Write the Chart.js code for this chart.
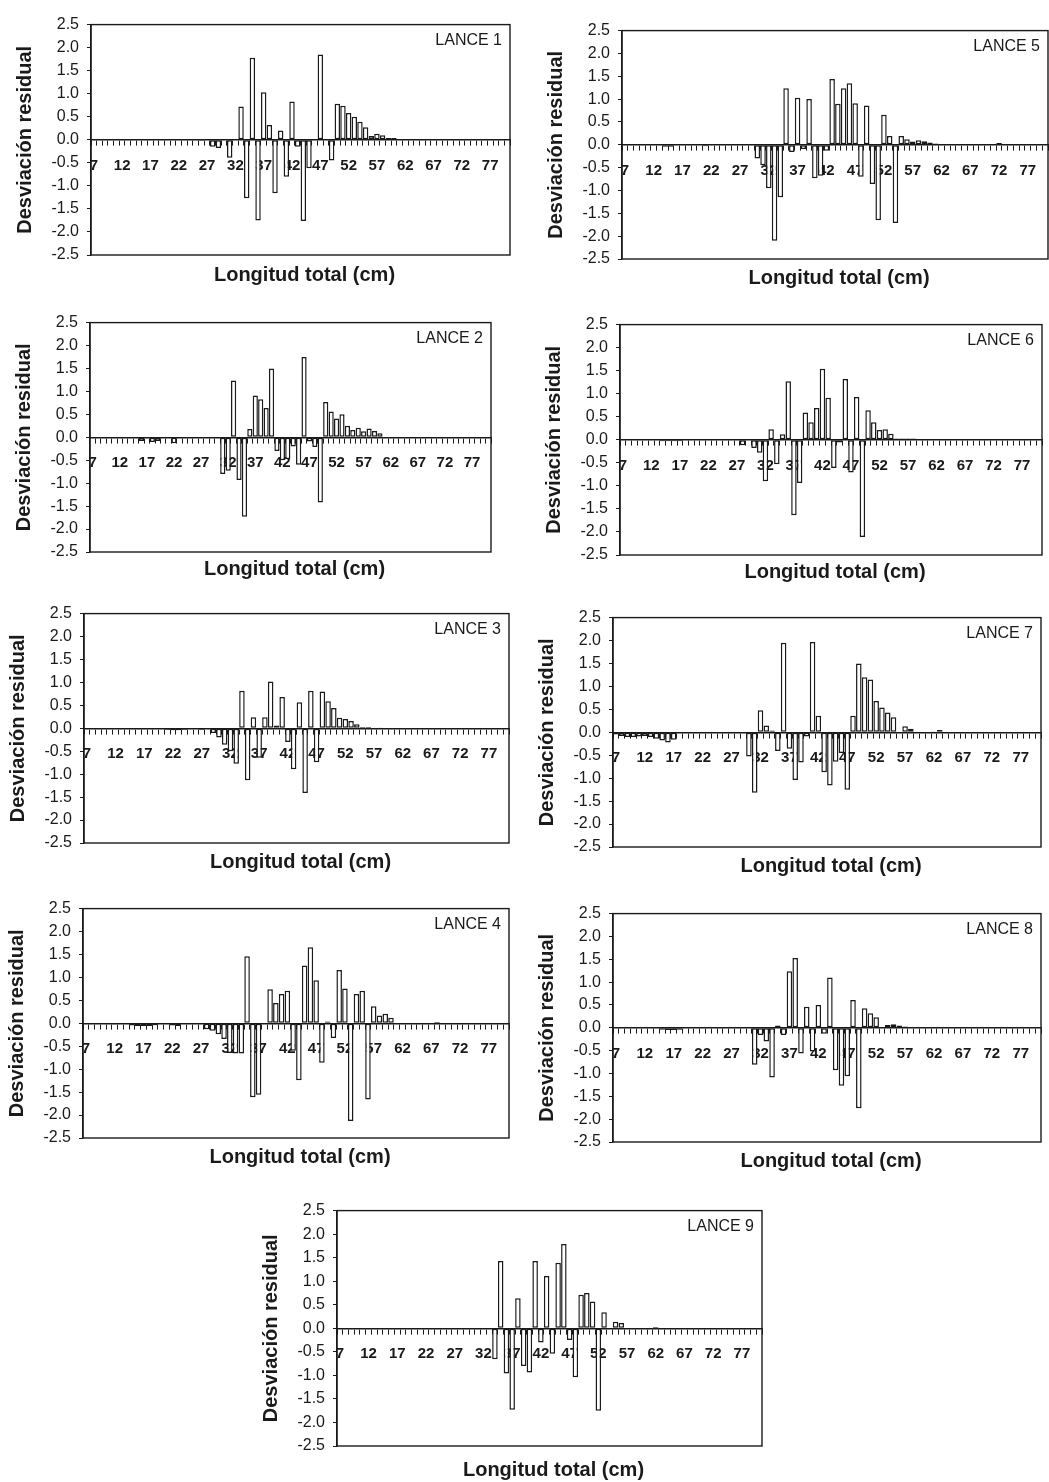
<!DOCTYPE html>
<html>
<head>
<meta charset="utf-8">
<script src="https://cdn.jsdelivr.net/npm/chart.js@4/dist/chart.umd.min.js"></script>
<style>
  body { margin: 0; background: #fff; width: 1049px; height: 1482px; position: relative; overflow: hidden; }
  canvas { position: absolute; }
</style>
</head>
<body>
<script>
/* desviaciones residuales por lance – longitud total 7..80 cm */

// categorías del eje x (cm)
const longitudes = [7, 8, 9, 10, 11, 12, 13, 14, 15, 16,
  17, 18, 19, 20, 21, 22, 23, 24, 25, 26,
  27, 28, 29, 30, 31, 32, 33, 34, 35, 36,
  37, 38, 39, 40, 41, 42, 43, 44, 45, 46,
  47, 48, 49, 50, 51, 52, 53, 54, 55, 56,
  57, 58, 59, 60, 61, 62, 63, 64, 65, 66,
  67, 68, 69, 70, 71, 72, 73, 74, 75, 76,
  77, 78, 79, 80];

// etiquetas visibles del eje x
const etiquetas = ["7", "12", "17", "22", "27", "32", "37", "42", "47", "52", "57", "62", "67", "72", "77"];

// marcas del eje y
const marcasY = [-2.5, -2.0, -1.5, -1.0, -0.5, 0.0, 0.5, 1.0, 1.5, 2.0, 2.5];

const lance1 = [0, 0, 0, 0, 0, -0.01, -0.01, -0.01, -0.01, -0.01,
  -0.01, -0.01, -0.01, -0.01, -0.01, -0.01, -0.01, -0.01, -0.01, -0.02,
  0, -0.15, -0.18, 0, -0.39, 0, 0.72, -1.27, 1.78, -1.75,
  1.03, 0.32, -1.16, 0.2, -0.8, 0.83, -0.15, -1.76, -0.62, 0,
  1.85, 0, -0.45, 0.78, 0.74, 0.58, 0.5, 0.39, 0.27, 0.08,
  0.13, 0.1, 0.04, 0.04, 0.02, 0.02, 0.02, 0.01, 0.01, 0,
  0.02, 0.01, 0, 0, 0, 0, 0, 0, 0, 0,
  0, 0, 0, 0];

const lance2 = [0, 0, 0, 0, 0, 0, 0, 0, 0, -0.08,
  0, -0.1, -0.08, 0, 0, -0.13, 0, 0, 0, 0,
  0, 0, 0, 0, -0.8, -0.73, 1.24, -0.93, -1.73, 0.18,
  0.91, 0.83, 0.64, 1.5, -0.3, -0.5, -0.48, -0.2, -0.6, 1.75,
  -0.09, -0.21, -1.42, 0.77, 0.56, 0.41, 0.5, 0.25, 0.16, 0.21,
  0.13, 0.19, 0.14, 0.09, 0, 0, 0, 0, 0, 0,
  0, 0, 0, 0, 0, 0, 0, 0, 0, 0,
  0, 0, 0, 0];

const lance3 = [0, 0, 0, 0, 0, 0, -0.02, 0, -0.02, -0.02,
  -0.02, 0, 0, 0, -0.03, -0.04, -0.04, -0.03, 0, 0,
  -0.03, 0, -0.1, -0.2, -0.36, -0.5, -0.77, 0.82, -1.13, 0.24,
  -0.64, 0.24, 1.02, 0.06, 0.68, -0.3, -0.89, 0.57, -1.41, 0.82,
  -0.74, 0.8, 0.59, 0.44, 0.23, 0.2, 0.16, 0.09, 0.03, 0.03,
  0, 0.02, 0, 0, 0, 0, 0, 0, 0, 0,
  0, 0, 0, 0, 0, 0, 0, 0, 0, 0,
  0, 0, 0, 0];

const lance4 = [0, 0, 0, 0, 0, -0.02, 0, 0, -0.05, -0.06,
  -0.06, -0.06, -0.04, 0, 0, -0.05, -0.06, 0, 0, 0,
  0, -0.13, -0.16, -0.24, -0.34, -0.65, -0.66, -0.66, 1.46, -1.61,
  -1.56, 0, 0.74, 0.44, 0.64, 0.71, -0.6, -1.24, 1.26, 1.66,
  0.94, -0.86, 0.04, -0.32, 1.16, 0.76, -2.13, 0.64, 0.71, -1.66,
  0.37, 0.17, 0.21, 0.12, 0, 0, 0, 0, 0, 0,
  0, 0.03, 0, 0, 0, 0, 0, 0, 0, 0,
  0, 0, 0, 0];

const lance5 = [0, 0, 0, 0, 0, 0, 0, -0.04, -0.04, 0,
  0, 0, 0, 0, -0.03, 0, 0, 0, 0, 0,
  0, 0, 0, -0.3, -0.45, -0.95, -2.1, -1.15, 1.24, -0.16,
  1.03, -0.09, 1.0, -0.73, -0.68, -0.13, 1.44, 0.9, 1.24, 1.35,
  0.91, -0.7, 0.86, -0.86, -1.65, 0.66, 0.19, -1.71, 0.19, 0.12,
  0.07, 0.1, 0.08, 0.05, 0.03, 0, 0, 0, 0, 0,
  0, 0, 0, 0, 0, 0.04, 0, 0, 0, 0,
  0, 0, 0, 0];

const lance6 = [0, 0, 0, 0, 0, 0, 0, -0.03, -0.03, -0.03,
  -0.03, 0, 0, 0, 0, 0, 0, 0, 0, 0,
  0, -0.12, 0, -0.18, -0.28, -0.9, 0.23, -0.53, 0.12, 1.27,
  -1.64, -0.94, 0.59, 0.38, 0.69, 1.54, 0.91, -0.61, -0.06, 1.32,
  -0.71, 0.93, -2.11, 0.64, 0.38, 0.21, 0.23, 0.13, 0.03, 0.03,
  0.03, 0.03, 0, 0, 0, 0, 0, 0, 0, 0,
  0, 0, 0, 0, 0, 0, 0, 0, 0, 0,
  0, 0, 0, 0];

const lance7 = [-0.05, -0.08, -0.1, -0.1, -0.09, -0.08, -0.1, -0.14, -0.18, -0.22,
  -0.16, 0, 0, 0, 0, 0, 0, 0, 0, 0,
  0, 0, 0, -0.53, -1.32, 0.48, 0.15, 0.04, -0.41, 1.95,
  -0.36, -1.04, -0.66, -0.09, 1.97, 0.36, -0.87, -1.16, -0.64, -0.45,
  -1.25, 0.36, 1.5, 1.2, 1.15, 0.68, 0.54, 0.43, 0.33, 0,
  0.13, 0.08, 0, 0, 0, 0.02, 0.05, 0, 0, 0,
  0, 0, 0, 0, 0, 0, 0, 0, 0, 0,
  0, 0, 0, 0];

const lance8 = [0, 0, 0, 0, 0, 0, 0, 0, -0.04, -0.05,
  -0.05, -0.04, 0, 0, 0, 0, 0, 0, 0, 0,
  0, 0, 0, 0, -0.81, -0.16, -0.3, -1.09, 0.05, -0.16,
  1.24, 1.53, -0.56, 0.46, -0.52, 0.5, -0.13, 1.1, -0.93, -1.27,
  -1.06, 0.61, -1.76, 0.43, 0.32, 0.23, 0, 0.06, 0.08, 0.05,
  0.03, 0, 0.02, 0, 0.02, 0, 0, 0, 0, 0,
  0, 0, 0, 0, 0, 0, 0, 0, 0, 0,
  0, 0, 0, 0];

const lance9 = [0, 0, 0, 0, 0, 0, 0, 0, 0, 0,
  0, 0, 0, 0, 0, 0, 0, 0, 0, 0,
  0, 0, 0, 0, 0, 0, 0, -0.66, 1.43, -0.96,
  -1.73, 0.64, -0.8, -0.94, 1.43, -0.3, 1.11, -0.54, 1.39, 1.79,
  -0.25, -1.04, 0.71, 0.75, 0.57, -1.75, 0.34, 0, 0.14, 0.11,
  0, 0, 0, 0, 0, 0.03, 0, 0, 0, 0,
  0, 0, 0, 0, 0, 0, 0, 0, 0, 0,
  0, 0, 0, 0];

const FUENTE = '"Liberation Sans", Arial, sans-serif';
const TINTA = "#1a1a1a";

// posición de cada área de trazado en la página (l, t, r, b)
const paneles = [
  { datos: lance1, nombre: "LANCE 1", l: 91, t: 21, r: 510, b: 255, tx: 20 },
  { datos: lance5, nombre: "LANCE 5", l: 622, t: 27, r: 1048, b: 259, tx: 19 },
  { datos: lance2, nombre: "LANCE 2", l: 90, t: 319, r: 491, b: 552, tx: 17 },
  { datos: lance6, nombre: "LANCE 6", l: 620, t: 321, r: 1042, b: 555, tx: 17 },
  { datos: lance3, nombre: "LANCE 3", l: 84, t: 610, r: 509, b: 843, tx: 19 },
  { datos: lance7, nombre: "LANCE 7", l: 613, t: 614, r: 1041, b: 847, tx: 19 },
  { datos: lance4, nombre: "LANCE 4", l: 83, t: 905, r: 509, b: 1138, tx: 19 },
  { datos: lance8, nombre: "LANCE 8", l: 613, t: 910, r: 1041, b: 1142, tx: 19 },
  { datos: lance9, nombre: "LANCE 9", l: 337, t: 1207, r: 762, b: 1446, tx: 24 }
];

const PAD_IZQ = 90, PAD_SUP = 14, PAD_DER = 10, PAD_INF = 44;

// marco del gráfico, rótulo del lance y títulos de los ejes
const decoracion = {
  id: "decoracion",
  afterDraw(chart, args, opts) {
    const { ctx, chartArea: a } = chart;
    ctx.save();
    ctx.strokeStyle = TINTA;
    ctx.lineWidth = 1.4;
    ctx.strokeRect(a.left, a.top, a.right - a.left, a.bottom - a.top);

    ctx.fillStyle = TINTA;
    ctx.font = "16px " + FUENTE;
    ctx.textAlign = "right";
    ctx.textBaseline = "alphabetic";
    ctx.fillText(opts.nombre, a.right - 8, a.top + 20);

    ctx.font = "bold 20px " + FUENTE;
    ctx.textAlign = "center";
    ctx.textBaseline = "middle";
    ctx.fillText("Longitud total (cm)", (a.left + a.right) / 2 + 4, a.bottom + opts.tx);

    ctx.translate(a.left - 66, (a.top + a.bottom) / 2);
    ctx.rotate(-Math.PI / 2);
    ctx.fillText("Desviación residual", 0, 0);
    ctx.restore();
  }
};

function crearPanel(p) {
  const canvas = document.createElement("canvas");
  canvas.width = (p.r - p.l) + PAD_IZQ + PAD_DER;
  canvas.height = (p.b - p.t) + PAD_SUP + PAD_INF;
  canvas.style.left = (p.l - PAD_IZQ) + "px";
  canvas.style.top = (p.t - PAD_SUP) + "px";
  document.body.appendChild(canvas);

  new Chart(canvas, {
    type: "bar",
    data: {
      labels: longitudes.map(String),
      datasets: [{
        data: p.datos,
        backgroundColor: "#fff",
        borderColor: TINTA,
        borderWidth: 1.5,
        borderSkipped: false,
        barPercentage: 1,
        categoryPercentage: 0.96
      }]
    },
    options: {
      responsive: false,
      animation: false,
      devicePixelRatio: 1,
      layout: { padding: { left: 0, top: PAD_SUP, right: PAD_DER, bottom: PAD_INF } },
      plugins: {
        legend: { display: false },
        tooltip: { enabled: false },
        decoracion: { nombre: p.nombre, tx: p.tx }
      },
      scales: {
        x: {
          position: { y: 0 },
          z: 1,
          grid: { drawOnChartArea: false, drawTicks: true, tickLength: 5, color: TINTA },
          border: { display: true, color: TINTA, width: 1.6 },
          ticks: {
            autoSkip: false,
            maxRotation: 0,
            padding: 12,
            color: TINTA,
            font: { family: FUENTE, size: 15, weight: "bold" },
            callback: (v, idx) => {
              const lab = String(longitudes[idx]);
              return etiquetas.includes(lab) ? lab : "";
            }
          }
        },
        y: {
          min: marcasY[0],
          max: marcasY[marcasY.length - 1],
          afterFit: s => { s.width = PAD_IZQ; },
          afterBuildTicks: s => { s.ticks = marcasY.map(v => ({ value: v })); },
          grid: { drawOnChartArea: false, tickLength: 4, color: TINTA },
          border: { display: true, color: TINTA, width: 1.4 },
          ticks: {
            padding: 8,
            color: TINTA,
            font: { family: FUENTE, size: 16 },
            callback: v => v.toFixed(1)
          }
        }
      }
    },
    plugins: [decoracion]
  });
}

paneles.forEach(crearPanel);
</script>
</body>
</html>
